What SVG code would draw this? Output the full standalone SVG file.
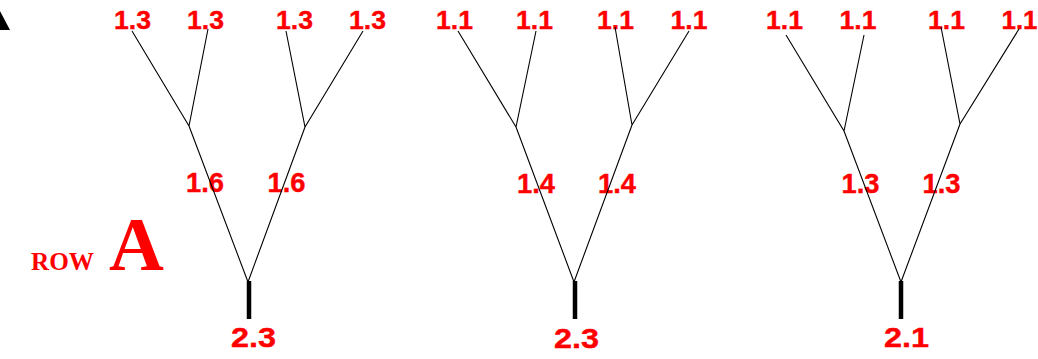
<svg xmlns="http://www.w3.org/2000/svg" width="1038" height="359" viewBox="0 0 1038 359">
<style>
.lbl{font-family:"Liberation Sans",Arial,sans-serif;font-weight:bold;fill:#ff0000;stroke:#ff0000;stroke-width:0.4;text-anchor:middle}
.t{font-size:26.5px}
.m{font-size:27px}
.b{font-size:28.5px}
.br{fill:none;stroke:#000;stroke-width:1.1}
.stem{stroke:#000;stroke-width:4.5}
.row{font-family:"Liberation Serif","Times New Roman",serif;font-weight:bold;fill:#ff0000}
</style>
<rect width="1038" height="359" fill="#fff"/>
<polygon points="0,11 0,30 10,30" fill="#000"/>
<g id="row-label">
<text class="row" x="31" y="270" font-size="26" textLength="63" lengthAdjust="spacingAndGlyphs">ROW</text>
<text class="row" x="109" y="270" font-size="76">A</text>
</g>
<g id="tree1">
<text class="lbl t" x="132.5" y="28.5" textLength="37" lengthAdjust="spacingAndGlyphs">1.3</text>
<text class="lbl t" x="205.5" y="28.5" textLength="37" lengthAdjust="spacingAndGlyphs">1.3</text>
<text class="lbl t" x="294.5" y="28.5" textLength="37" lengthAdjust="spacingAndGlyphs">1.3</text>
<text class="lbl t" x="367.5" y="28.5" textLength="37" lengthAdjust="spacingAndGlyphs">1.3</text>
<text class="lbl m" x="205" y="192" textLength="38" lengthAdjust="spacingAndGlyphs">1.6</text>
<text class="lbl m" x="286.5" y="192" textLength="38" lengthAdjust="spacingAndGlyphs">1.6</text>
<text class="lbl b" x="253.5" y="347" textLength="45" lengthAdjust="spacingAndGlyphs">2.3</text>
</g>
<g id="tree2">
<text class="lbl t" x="454.5" y="29.3" textLength="37" lengthAdjust="spacingAndGlyphs">1.1</text>
<text class="lbl t" x="534.5" y="29.3" textLength="37" lengthAdjust="spacingAndGlyphs">1.1</text>
<text class="lbl t" x="615.5" y="29.3" textLength="37" lengthAdjust="spacingAndGlyphs">1.1</text>
<text class="lbl t" x="689" y="29.3" textLength="37" lengthAdjust="spacingAndGlyphs">1.1</text>
<text class="lbl m" x="536" y="192.5" textLength="38" lengthAdjust="spacingAndGlyphs">1.4</text>
<text class="lbl m" x="617" y="192.5" textLength="38" lengthAdjust="spacingAndGlyphs">1.4</text>
<text class="lbl b" x="576.5" y="348" textLength="45" lengthAdjust="spacingAndGlyphs">2.3</text>
</g>
<g id="tree3">
<text class="lbl t" x="784.5" y="29.3" textLength="37" lengthAdjust="spacingAndGlyphs">1.1</text>
<text class="lbl t" x="858" y="29.3" textLength="37" lengthAdjust="spacingAndGlyphs">1.1</text>
<text class="lbl t" x="946.5" y="29.3" textLength="37" lengthAdjust="spacingAndGlyphs">1.1</text>
<text class="lbl t" x="1019.5" y="29.3" textLength="36" lengthAdjust="spacingAndGlyphs">1.1</text>
<text class="lbl m" x="860.5" y="192.5" textLength="38" lengthAdjust="spacingAndGlyphs">1.3</text>
<text class="lbl m" x="941.5" y="192.5" textLength="38" lengthAdjust="spacingAndGlyphs">1.3</text>
<text class="lbl b" x="906.5" y="347" textLength="45" lengthAdjust="spacingAndGlyphs">2.1</text>
</g>
<g id="connectors">
<path class="br" d="M132,31 L189,126 L208,29 M189,126 L248,282 M286,31 L305,127 L363,31 M305,127 L248,282"/>
<line class="stem" x1="249" y1="281" x2="249" y2="319"/>
<path class="br" d="M458,31 L516,127 L536,31 M516,127 L574,282 M615,27 L632,125 L689,31 M632,125 L574,282"/>
<line class="stem" x1="575" y1="281" x2="575" y2="319"/>
<path class="br" d="M786,35 L844,131 L864,35 M844,131 L901,282 M941,27 L960,124 L1019,29 M960,124 L901,282"/>
<line class="stem" x1="901" y1="281" x2="901" y2="319"/>
</g>
</svg>
